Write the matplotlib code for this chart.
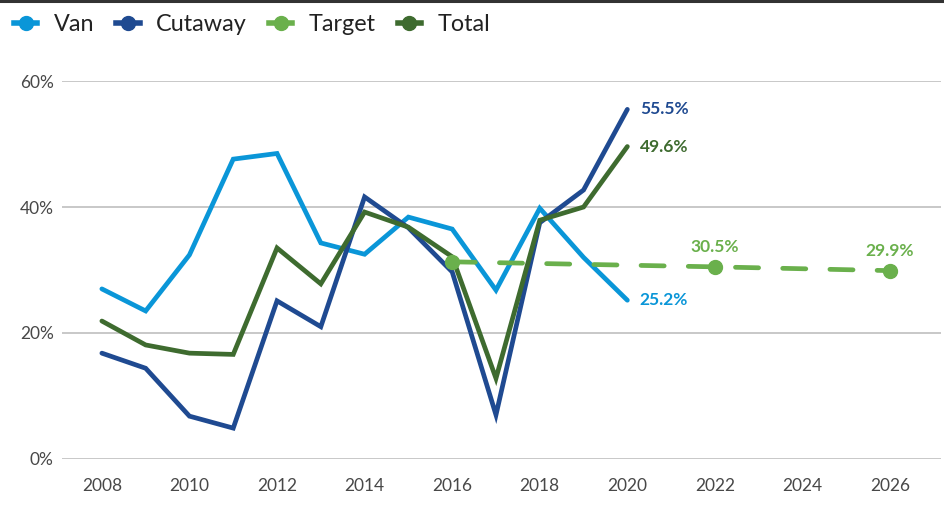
import matplotlib
matplotlib.use("Agg")
import matplotlib.pyplot as plt
from matplotlib.lines import Line2D
from matplotlib.ticker import FuncFormatter

plt.rcParams['font.family'] = ['Lato', 'DejaVu Sans']

years = list(range(2008, 2021))
van = [27.0, 23.5, 32.4, 47.6, 48.5, 34.3, 32.5, 38.4, 36.5, 26.8, 39.8, 32.0, 25.2]
cutaway = [16.8, 14.4, 6.8, 4.9, 25.1, 21.0, 41.6, 36.7, 29.7, 7.0, 37.5, 42.7, 55.5]
total = [21.9, 18.1, 16.8, 16.6, 33.5, 27.8, 39.2, 36.8, 32.1, 12.8, 37.9, 40.0, 49.6]
target_years = [2016, 2022, 2026]
target = [31.3, 30.5, 29.9]

c_van = "#0a96d8"
c_cut = "#1f4a91"
c_tgt = "#6ab04c"
c_tot = "#3e6b2f"

fig = plt.figure(figsize=(9.44, 5.08), dpi=100)
ax = fig.add_axes([0.0657, 0.0965, 0.931, 0.744])

lw = 3.4
ax.plot(years, van, color=c_van, lw=lw, solid_capstyle='round', solid_joinstyle='miter', zorder=3)
ax.plot(years, cutaway, color=c_cut, lw=lw, solid_capstyle='round', solid_joinstyle='miter', zorder=3)
ax.plot(years, total, color=c_tot, lw=lw, solid_capstyle='round', solid_joinstyle='miter', zorder=4)
ax.plot(target_years, target, color=c_tgt, lw=lw, ls=(0, (4.9, 5.1)), dash_capstyle='round',
        marker='o', markersize=10, zorder=5)

# end labels
lab_kw = dict(fontsize=12.5, fontweight='bold', va='center', ha='left')
ax.annotate(f"{cutaway[-1]}%", (years[-1], cutaway[-1]), xytext=(9, 0),
            textcoords='offset points', color=c_cut, **lab_kw)
ax.annotate(f"{total[-1]}%", (years[-1], total[-1]), xytext=(9, 0),
            textcoords='offset points', color=c_tot, **lab_kw)
ax.annotate(f"{van[-1]}%", (years[-1], van[-1]), xytext=(9, 0),
            textcoords='offset points', color=c_van, **lab_kw)
for x, y in zip(target_years[1:], target[1:]):
    ax.annotate(f"{y}%", (x, y), xytext=(0, 14), textcoords='offset points',
                color=c_tgt, fontsize=12.5, fontweight='bold', ha='center', va='center')

ax.set_xlim(2007.09, 2027.16)
ax.set_ylim(0, 60)
ax.set_xticks(range(2008, 2027, 2))
ax.set_yticks([0, 20, 40, 60])
ax.yaxis.set_major_formatter(FuncFormatter(lambda v, p: f"{v:.0f}%"))
ax.grid(axis='y', color='#c4c4c4', lw=1.3)
ax.set_axisbelow(True)
for s in ax.spines.values():
    s.set_visible(False)
ax.tick_params(axis='both', length=0, labelsize=12.5, labelcolor='#484848')
ax.tick_params(axis='x', pad=14)
ax.tick_params(axis='y', pad=6)

handles = [
    Line2D([], [], color=c_van, lw=4, marker='o', markersize=10),
    Line2D([], [], color=c_cut, lw=4, marker='o', markersize=10),
    Line2D([], [], color=c_tgt, lw=4, marker='o', markersize=10),
    Line2D([], [], color=c_tot, lw=4, marker='o', markersize=10),
]
fig.legend(handles, ["Van", "Cutaway", "Target", "Total"], loc='upper left',
           bbox_to_anchor=(0.0, 1.0), ncol=4, frameon=False, fontsize=16.8,
           handlelength=1.0, handletextpad=0.7, columnspacing=0.95,
           labelcolor='#222222', borderaxespad=0.2)

fig.add_artist(Line2D([0, 1], [0.998, 0.998], color='#333333', lw=2.2,
                      transform=fig.transFigure))

fig.savefig("out.png", dpi=100)
